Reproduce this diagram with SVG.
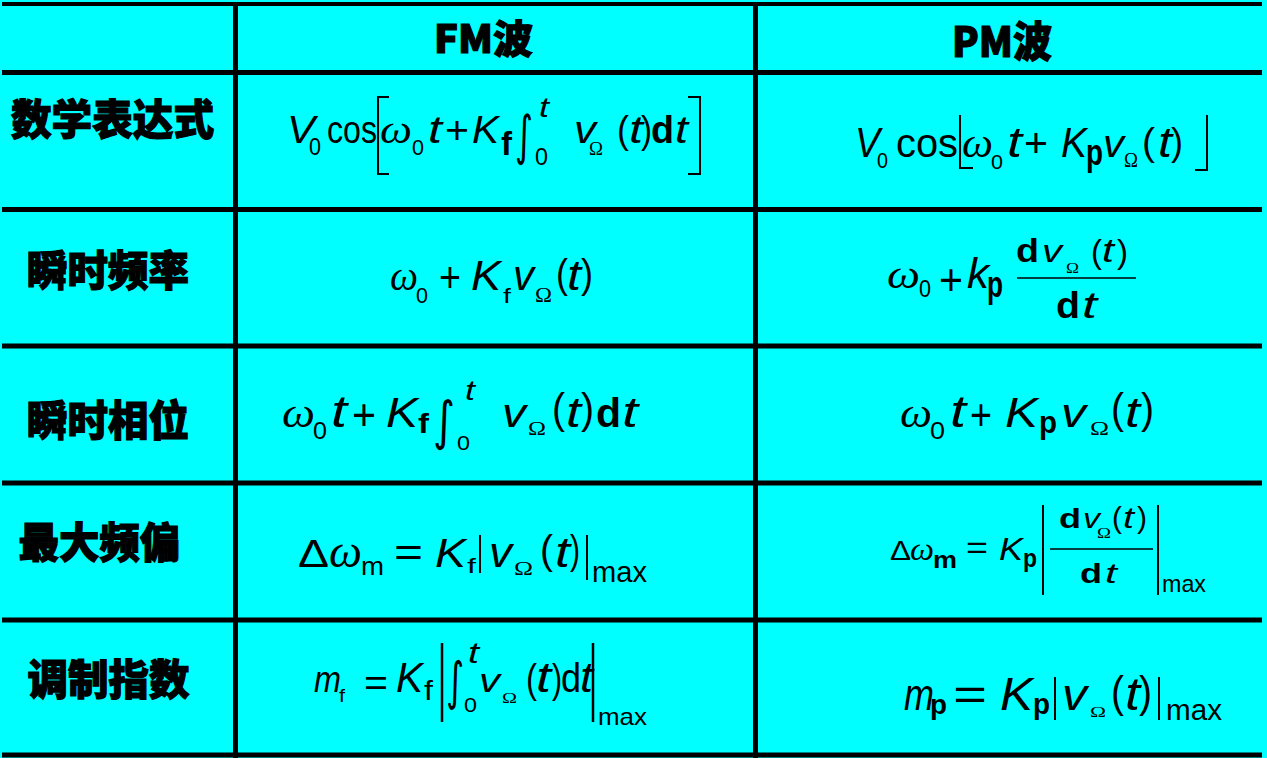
<svg xmlns="http://www.w3.org/2000/svg" width="1267" height="758" viewBox="0 0 1267 758">
<style>
text{fill:#000}
.r{font-family:"Liberation Sans",Arial,sans-serif}
.i{font-family:"Liberation Sans",Arial,sans-serif;font-style:italic}
.b{font-family:"Liberation Sans",Arial,sans-serif;font-weight:bold}
.g{font-family:"Liberation Serif","Times New Roman",serif;font-style:italic}
.G{font-family:"Liberation Serif","Times New Roman",serif}
.n{font-family:"DejaVu Sans","Liberation Sans",sans-serif}
.h{font-family:"Noto Sans CJK SC","Noto Sans",sans-serif;font-weight:900;text-anchor:middle;stroke:#000;stroke-width:1.2}
.grid{stroke:#000;stroke-width:5;fill:none}
.ln{stroke:#000;stroke-width:2;fill:none}
.fl{stroke:#000;stroke-width:1.6;fill:none}
</style>
<rect x="0" y="0" width="1267" height="758" fill="#00FFFF"/>
<g id="grid">
<line class="grid" x1="2" y1="4" x2="1262" y2="4" style="stroke-width:4"/>
<line class="grid" x1="2" y1="72.5" x2="1262" y2="72.5"/>
<line class="grid" x1="2" y1="209.5" x2="1262" y2="209.5"/>
<line class="grid" x1="2" y1="346" x2="1262" y2="346"/>
<line class="grid" x1="2" y1="483" x2="1262" y2="483"/>
<line class="grid" x1="2" y1="620" x2="1262" y2="620"/>
<line class="grid" x1="2" y1="755" x2="1262" y2="755"/>
<line class="grid" x1="235.5" y1="2" x2="235.5" y2="758"/>
<line class="grid" x1="755.5" y1="2" x2="755.5" y2="758"/>
</g>
<g id="headers">
<text class="h" x="483.5" y="53" font-size="39" textLength="99" lengthAdjust="spacingAndGlyphs">FM波</text>
<text class="h" x="1002" y="57" font-size="42" textLength="100" lengthAdjust="spacingAndGlyphs">PM波</text>
</g>
<g id="labels">
<text class="h" x="112.5" y="135" font-size="42" textLength="203" lengthAdjust="spacingAndGlyphs">数学表达式</text>
<text class="h" x="108" y="286" font-size="42" textLength="162" lengthAdjust="spacingAndGlyphs">瞬时频率</text>
<text class="h" x="108" y="436" font-size="42" textLength="162" lengthAdjust="spacingAndGlyphs">瞬时相位</text>
<text class="h" x="99.5" y="558" font-size="42" textLength="162" lengthAdjust="spacingAndGlyphs">最大频偏</text>
<text class="h" x="108.5" y="695" font-size="42" textLength="162" lengthAdjust="spacingAndGlyphs">调制指数</text>
</g>
<g id="fm-expr">
<text class="i" x="287" y="143" font-size="39" textLength="28" lengthAdjust="spacingAndGlyphs">V</text>
<text class="r" x="309" y="155" font-size="23" textLength="12" lengthAdjust="spacingAndGlyphs">0</text>
<text class="r" x="327" y="143" font-size="38" textLength="50" lengthAdjust="spacingAndGlyphs">cos</text>
<path class="ln" d="M389,97 H378 V174 H389"/>
<text class="g" x="380" y="143" font-size="40" textLength="32" lengthAdjust="spacingAndGlyphs">ω</text>
<text class="r" x="412" y="155" font-size="22" textLength="12" lengthAdjust="spacingAndGlyphs">0</text>
<text class="i" x="428" y="143" font-size="39" textLength="14" lengthAdjust="spacingAndGlyphs">t</text>
<text class="r" x="445" y="143" font-size="39" textLength="24" lengthAdjust="spacingAndGlyphs">+</text>
<text class="i" x="472" y="143" font-size="39" textLength="27" lengthAdjust="spacingAndGlyphs">K</text>
<text class="b" x="501" y="155" font-size="34" textLength="11" lengthAdjust="spacingAndGlyphs">f</text>
<text class="n" x="515" y="154" font-size="54" textLength="18" lengthAdjust="spacingAndGlyphs">∫</text>
<text class="i" x="539" y="117" font-size="27" textLength="10" lengthAdjust="spacingAndGlyphs">t</text>
<text class="r" x="535" y="165" font-size="23" textLength="13" lengthAdjust="spacingAndGlyphs">0</text>
<text class="i" x="574" y="143" font-size="38" textLength="22" lengthAdjust="spacingAndGlyphs">v</text>
<text class="G" x="589" y="155" font-size="18" textLength="14" lengthAdjust="spacingAndGlyphs">Ω</text>
<text class="r" x="617" y="143" font-size="39" textLength="12" lengthAdjust="spacingAndGlyphs">(</text>
<text class="i" x="629" y="143" font-size="39" textLength="14" lengthAdjust="spacingAndGlyphs">t</text>
<text class="r" x="641" y="143" font-size="39" textLength="11" lengthAdjust="spacingAndGlyphs">)</text>
<text class="b" x="651" y="143" font-size="38" textLength="23" lengthAdjust="spacingAndGlyphs">d</text>
<text class="i" x="675" y="143" font-size="39" textLength="13" lengthAdjust="spacingAndGlyphs">t</text>
<path class="ln" d="M688,97 H700 V174 H688"/>
</g>
<g id="pm-expr">
<text class="i" x="855" y="157" font-size="42" textLength="25" lengthAdjust="spacingAndGlyphs">V</text>
<text class="r" x="877" y="168" font-size="22" textLength="11" lengthAdjust="spacingAndGlyphs">0</text>
<text class="r" x="896" y="157" font-size="40" textLength="62" lengthAdjust="spacingAndGlyphs">cos</text>
<path class="ln" d="M960,115 V168 H973"/>
<text class="g" x="962" y="157" font-size="42" textLength="31" lengthAdjust="spacingAndGlyphs">ω</text>
<text class="r" x="991" y="169" font-size="21" textLength="12" lengthAdjust="spacingAndGlyphs">0</text>
<text class="i" x="1007" y="157" font-size="43" textLength="15" lengthAdjust="spacingAndGlyphs">t</text>
<text class="r" x="1024" y="157" font-size="40" textLength="24" lengthAdjust="spacingAndGlyphs">+</text>
<text class="i" x="1061" y="157" font-size="42" textLength="26" lengthAdjust="spacingAndGlyphs">K</text>
<text class="b" x="1086" y="165" font-size="36" textLength="17" lengthAdjust="spacingAndGlyphs">p</text>
<text class="i" x="1103" y="157" font-size="39" textLength="21" lengthAdjust="spacingAndGlyphs">v</text>
<text class="G" x="1124" y="167" font-size="21" textLength="14" lengthAdjust="spacingAndGlyphs">Ω</text>
<text class="r" x="1142" y="155" font-size="39" textLength="13" lengthAdjust="spacingAndGlyphs">(</text>
<text class="i" x="1158" y="157" font-size="42" textLength="14" lengthAdjust="spacingAndGlyphs">t</text>
<text class="r" x="1171" y="155" font-size="39" textLength="12" lengthAdjust="spacingAndGlyphs">)</text>
<path class="ln" d="M1195,170 H1207 V115"/>
</g>
<g id="fm-freq">
<text class="g" x="390" y="290" font-size="42" textLength="28" lengthAdjust="spacingAndGlyphs">ω</text>
<text class="r" x="416" y="303" font-size="22" textLength="12" lengthAdjust="spacingAndGlyphs">0</text>
<text class="r" x="439" y="292" font-size="42" textLength="22" lengthAdjust="spacingAndGlyphs">+</text>
<text class="i" x="471" y="290" font-size="42" textLength="30" lengthAdjust="spacingAndGlyphs">K</text>
<text class="r" x="503" y="303" font-size="21" textLength="8" lengthAdjust="spacingAndGlyphs">f</text>
<text class="i" x="513" y="290" font-size="42" textLength="21" lengthAdjust="spacingAndGlyphs">v</text>
<text class="G" x="535" y="302" font-size="21" textLength="17" lengthAdjust="spacingAndGlyphs">Ω</text>
<text class="r" x="556" y="288" font-size="41" textLength="12" lengthAdjust="spacingAndGlyphs">(</text>
<text class="i" x="567" y="290" font-size="42" textLength="14" lengthAdjust="spacingAndGlyphs">t</text>
<text class="r" x="581" y="288" font-size="41" textLength="12" lengthAdjust="spacingAndGlyphs">)</text>
</g>
<g id="pm-freq">
<text class="g" x="887" y="288" font-size="40" textLength="33" lengthAdjust="spacingAndGlyphs">ω</text>
<text class="r" x="919" y="297" font-size="23" textLength="12" lengthAdjust="spacingAndGlyphs">0</text>
<text class="r" x="939" y="295" font-size="44" textLength="24" lengthAdjust="spacingAndGlyphs">+</text>
<text class="i" x="967" y="288" font-size="42" textLength="22" lengthAdjust="spacingAndGlyphs">k</text>
<text class="b" x="987" y="297" font-size="36" textLength="16" lengthAdjust="spacingAndGlyphs">p</text>
<line class="fl" x1="1017" y1="278" x2="1136" y2="278"/>
<text class="b" x="1016" y="262" font-size="33" textLength="23" lengthAdjust="spacingAndGlyphs">d</text>
<text class="i" x="1042" y="262" font-size="31" textLength="20" lengthAdjust="spacingAndGlyphs">v</text>
<text class="G" x="1066" y="273" font-size="15" textLength="13" lengthAdjust="spacingAndGlyphs">Ω</text>
<text class="r" x="1091" y="263" font-size="34" textLength="11" lengthAdjust="spacingAndGlyphs">(</text>
<text class="i" x="1102" y="262" font-size="33" textLength="12" lengthAdjust="spacingAndGlyphs">t</text>
<text class="r" x="1117" y="263" font-size="34" textLength="11" lengthAdjust="spacingAndGlyphs">)</text>
<text class="b" x="1056" y="318" font-size="36" textLength="24" lengthAdjust="spacingAndGlyphs">d</text>
<text class="i" x="1082" y="318" font-size="36" textLength="15" lengthAdjust="spacingAndGlyphs">t</text>
</g>
<g id="fm-phase">
<text class="g" x="282" y="427" font-size="42" textLength="33" lengthAdjust="spacingAndGlyphs">ω</text>
<text class="r" x="313" y="439" font-size="24" textLength="14" lengthAdjust="spacingAndGlyphs">0</text>
<text class="i" x="331" y="427" font-size="44" textLength="16" lengthAdjust="spacingAndGlyphs">t</text>
<text class="r" x="352" y="430" font-size="44" textLength="24" lengthAdjust="spacingAndGlyphs">+</text>
<text class="i" x="386" y="427" font-size="42" textLength="32" lengthAdjust="spacingAndGlyphs">K</text>
<text class="b" x="418" y="433" font-size="27" textLength="11" lengthAdjust="spacingAndGlyphs">f</text>
<text class="n" x="433" y="439" font-size="53" textLength="22" lengthAdjust="spacingAndGlyphs">∫</text>
<text class="i" x="465" y="400" font-size="27" textLength="10" lengthAdjust="spacingAndGlyphs">t</text>
<text class="r" x="457" y="450" font-size="20" textLength="13" lengthAdjust="spacingAndGlyphs">0</text>
<text class="i" x="502" y="427" font-size="40" textLength="24" lengthAdjust="spacingAndGlyphs">v</text>
<text class="G" x="528" y="435" font-size="18" textLength="18" lengthAdjust="spacingAndGlyphs">Ω</text>
<text class="r" x="552" y="423" font-size="43" textLength="13" lengthAdjust="spacingAndGlyphs">(</text>
<text class="i" x="566" y="427" font-size="42" textLength="15" lengthAdjust="spacingAndGlyphs">t</text>
<text class="r" x="581" y="423" font-size="43" textLength="13" lengthAdjust="spacingAndGlyphs">)</text>
<text class="b" x="596" y="427" font-size="41" textLength="25" lengthAdjust="spacingAndGlyphs">d</text>
<text class="i" x="622" y="427" font-size="42" textLength="16" lengthAdjust="spacingAndGlyphs">t</text>
</g>
<g id="pm-phase">
<text class="g" x="900" y="427" font-size="42" textLength="32" lengthAdjust="spacingAndGlyphs">ω</text>
<text class="r" x="930" y="439" font-size="24" textLength="15" lengthAdjust="spacingAndGlyphs">0</text>
<text class="i" x="950" y="427" font-size="44" textLength="16" lengthAdjust="spacingAndGlyphs">t</text>
<text class="r" x="970" y="430" font-size="44" textLength="22" lengthAdjust="spacingAndGlyphs">+</text>
<text class="i" x="1005" y="427" font-size="42" textLength="33" lengthAdjust="spacingAndGlyphs">K</text>
<text class="b" x="1039" y="433" font-size="32" textLength="18" lengthAdjust="spacingAndGlyphs">p</text>
<text class="i" x="1061" y="427" font-size="40" textLength="25" lengthAdjust="spacingAndGlyphs">v</text>
<text class="G" x="1090" y="435" font-size="18" textLength="19" lengthAdjust="spacingAndGlyphs">Ω</text>
<text class="r" x="1111" y="423" font-size="43" textLength="13" lengthAdjust="spacingAndGlyphs">(</text>
<text class="i" x="1125" y="427" font-size="42" textLength="15" lengthAdjust="spacingAndGlyphs">t</text>
<text class="r" x="1141" y="423" font-size="43" textLength="13" lengthAdjust="spacingAndGlyphs">)</text>
</g>
<g id="fm-dev">
<text class="r" x="298" y="567" font-size="38" textLength="31" lengthAdjust="spacingAndGlyphs">Δ</text>
<text class="g" x="329" y="567" font-size="46" textLength="33" lengthAdjust="spacingAndGlyphs">ω</text>
<text class="r" x="361" y="575" font-size="25" textLength="23" lengthAdjust="spacingAndGlyphs">m</text>
<text class="r" x="394" y="566" font-size="40" textLength="29" lengthAdjust="spacingAndGlyphs">=</text>
<text class="i" x="435" y="567" font-size="41" textLength="31" lengthAdjust="spacingAndGlyphs">K</text>
<text class="r" x="467" y="573" font-size="21" textLength="9" lengthAdjust="spacingAndGlyphs">f</text>
<line class="ln" x1="480" y1="535" x2="480" y2="573"/>
<text class="i" x="489" y="567" font-size="42" textLength="23" lengthAdjust="spacingAndGlyphs">v</text>
<text class="G" x="514" y="575" font-size="18" textLength="19" lengthAdjust="spacingAndGlyphs">Ω</text>
<text class="r" x="540" y="564" font-size="40" textLength="13" lengthAdjust="spacingAndGlyphs">(</text>
<text class="i" x="555" y="567" font-size="42" textLength="15" lengthAdjust="spacingAndGlyphs">t</text>
<text class="r" x="570" y="564" font-size="40" textLength="10" lengthAdjust="spacingAndGlyphs">)</text>
<line class="ln" x1="587" y1="535" x2="587" y2="580"/>
<text class="r" x="592" y="582" font-size="30" textLength="55" lengthAdjust="spacingAndGlyphs">max</text>
</g>
<g id="pm-dev">
<text class="r" x="890" y="560" font-size="28" textLength="21" lengthAdjust="spacingAndGlyphs">Δ</text>
<text class="g" x="910" y="560" font-size="32" textLength="24" lengthAdjust="spacingAndGlyphs">ω</text>
<text class="b" x="933" y="568" font-size="24" textLength="24" lengthAdjust="spacingAndGlyphs">m</text>
<text class="r" x="966" y="558" font-size="32" textLength="22" lengthAdjust="spacingAndGlyphs">=</text>
<text class="i" x="999" y="560" font-size="31" textLength="24" lengthAdjust="spacingAndGlyphs">K</text>
<text class="b" x="1023" y="567" font-size="26" textLength="14" lengthAdjust="spacingAndGlyphs">p</text>
<line class="ln" x1="1043" y1="505" x2="1043" y2="595"/>
<line class="fl" x1="1050" y1="549" x2="1153" y2="549"/>
<text class="b" x="1059" y="528" font-size="28" textLength="22" lengthAdjust="spacingAndGlyphs">d</text>
<text class="i" x="1083" y="528" font-size="28" textLength="17" lengthAdjust="spacingAndGlyphs">v</text>
<text class="G" x="1097" y="538" font-size="15" textLength="14" lengthAdjust="spacingAndGlyphs">Ω</text>
<text class="r" x="1112" y="528" font-size="29" textLength="10" lengthAdjust="spacingAndGlyphs">(</text>
<text class="i" x="1123" y="528" font-size="29" textLength="11" lengthAdjust="spacingAndGlyphs">t</text>
<text class="r" x="1137" y="528" font-size="29" textLength="10" lengthAdjust="spacingAndGlyphs">)</text>
<text class="b" x="1080" y="583" font-size="28" textLength="22" lengthAdjust="spacingAndGlyphs">d</text>
<text class="i" x="1105" y="583" font-size="28" textLength="12" lengthAdjust="spacingAndGlyphs">t</text>
<line class="ln" x1="1158" y1="505" x2="1158" y2="595"/>
<text class="r" x="1162" y="592" font-size="24" textLength="44" lengthAdjust="spacingAndGlyphs">max</text>
</g>
<g id="fm-index">
<text class="i" x="314" y="692" font-size="37" textLength="27" lengthAdjust="spacingAndGlyphs">m</text>
<text class="r" x="339" y="702" font-size="19" textLength="6" lengthAdjust="spacingAndGlyphs">f</text>
<text class="r" x="364" y="695" font-size="36" textLength="24" lengthAdjust="spacingAndGlyphs">=</text>
<text class="i" x="396" y="692" font-size="42" textLength="27" lengthAdjust="spacingAndGlyphs">K</text>
<text class="r" x="424" y="700" font-size="27" textLength="9" lengthAdjust="spacingAndGlyphs">f</text>
<line class="ln" x1="442" y1="643" x2="442" y2="722" style="stroke-width:2.5"/>
<text class="n" x="446" y="699" font-size="52" textLength="18" lengthAdjust="spacingAndGlyphs">∫</text>
<text class="i" x="468" y="663" font-size="30" textLength="11" lengthAdjust="spacingAndGlyphs">t</text>
<text class="r" x="464" y="712" font-size="21" textLength="13" lengthAdjust="spacingAndGlyphs">0</text>
<text class="i" x="479" y="692" font-size="34" textLength="21" lengthAdjust="spacingAndGlyphs">v</text>
<text class="G" x="502" y="703" font-size="15" textLength="15" lengthAdjust="spacingAndGlyphs">Ω</text>
<text class="r" x="526" y="693" font-size="41" textLength="11" lengthAdjust="spacingAndGlyphs">(</text>
<text class="i" x="536" y="692" font-size="42" textLength="15" lengthAdjust="spacingAndGlyphs">t</text>
<text class="r" x="552" y="693" font-size="41" textLength="10" lengthAdjust="spacingAndGlyphs">)</text>
<text class="r" x="561" y="692" font-size="41" textLength="20" lengthAdjust="spacingAndGlyphs">d</text>
<text class="i" x="580" y="692" font-size="42" textLength="13" lengthAdjust="spacingAndGlyphs">t</text>
<line class="ln" x1="593" y1="643" x2="593" y2="722" style="stroke-width:2.5"/>
<text class="r" x="598" y="725" font-size="24" textLength="49" lengthAdjust="spacingAndGlyphs">max</text>
</g>
<g id="pm-index">
<text class="i" x="904" y="710" font-size="44" textLength="30" lengthAdjust="spacingAndGlyphs">m</text>
<text class="b" x="930" y="714" font-size="27" textLength="17" lengthAdjust="spacingAndGlyphs">p</text>
<text class="r" x="953" y="710" font-size="44" textLength="34" lengthAdjust="spacingAndGlyphs">=</text>
<text class="i" x="1000" y="710" font-size="46" textLength="33" lengthAdjust="spacingAndGlyphs">K</text>
<text class="b" x="1033" y="714" font-size="30" textLength="17" lengthAdjust="spacingAndGlyphs">p</text>
<line class="ln" x1="1055" y1="677" x2="1055" y2="720"/>
<text class="i" x="1062" y="710" font-size="44" textLength="25" lengthAdjust="spacingAndGlyphs">v</text>
<text class="G" x="1090" y="717" font-size="15" textLength="16" lengthAdjust="spacingAndGlyphs">Ω</text>
<text class="r" x="1111" y="707" font-size="44" textLength="13" lengthAdjust="spacingAndGlyphs">(</text>
<text class="i" x="1125" y="710" font-size="46" textLength="15" lengthAdjust="spacingAndGlyphs">t</text>
<text class="r" x="1139" y="707" font-size="44" textLength="13" lengthAdjust="spacingAndGlyphs">)</text>
<line class="ln" x1="1159" y1="677" x2="1159" y2="720"/>
<text class="r" x="1166" y="720" font-size="30" textLength="56" lengthAdjust="spacingAndGlyphs">max</text>
</g>
</svg>
